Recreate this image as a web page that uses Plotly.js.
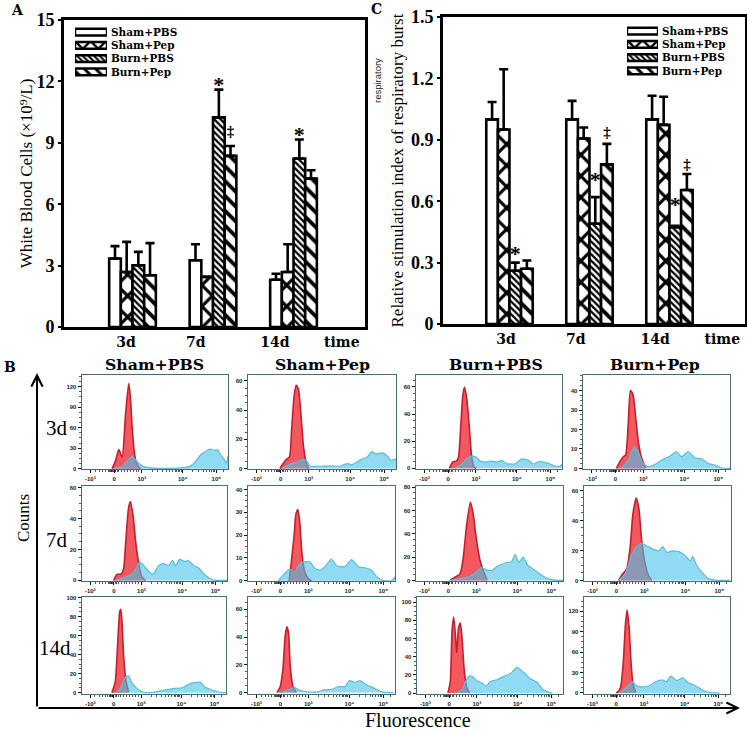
<!DOCTYPE html>
<html><head><meta charset="utf-8">
<script src="https://cdn.plot.ly/plotly-3.0.1.min.js"></script>
<style>html,body{margin:0;padding:0;background:#fff}</style></head>
<body><div id="chart" style="width:747px;height:731px"></div>
<script>
// ---------- bar panels ----------
const seriesNames = ['Sham+PBS','Sham+Pep','Burn+PBS','Burn+Pep'];
const groupIndex = [0,1,2];
const wbcShamPbs = [3.34,3.26,2.31], wbcShamPbsTop = [3.95,4.04,2.60];
const wbcShamPep = [2.69,2.45,2.69], wbcShamPepTop = [4.16,2.45,4.04];
const wbcBurnPbs = [3.02,10.24,8.23], wbcBurnPbsTop = [3.67,11.60,9.16];
const wbcBurnPep = [2.53,8.36,7.25], wbcBurnPepTop = [4.10,8.84,7.66];
const rsiShamPbs = [1.00,1.00,1.00], rsiShamPbsTop = [1.085,1.09,1.115];
const rsiShamPep = [0.95,0.906,0.973], rsiShamPepTop = [1.245,0.96,1.11];
const rsiBurnPbs = [0.26,0.49,0.473], rsiBurnPbsTop = [0.30,0.62,0.48];
const rsiBurnPep = [0.27,0.78,0.655], rsiBurnPepTop = [0.31,0.88,0.733];
const timeLabels = ['3d','7d','14d','time'];
const wbcTimeTicks = [-0.081,0.785,1.77,2.6];
const rsiTimeTicks = [-0.044,0.83,1.82,2.66];
const wbcMarkGroup=[1,1,2], wbcMarkBar=[2,3,2], wbcMarkY=[11.75,9.5,9.3], wbcMarkText=['*','‡','*'];
const rsiMarkGroup=[0,1,1,2,2], rsiMarkBar=[2,2,3,2,3], rsiMarkY=[0.335,0.695,0.933,0.575,0.777], rsiMarkText=['*','*','‡','*','‡'];

// ---------- flow cytometry histograms (x: % of channel axis, y: counts) ----------
const channelTicks=[5.7,22,41,69,92];
const channelLabels=['-10³','0','10³','10⁴','10⁵'];
const channelMinor=[9,12,14,16,18,19,19.5,20,20.5,21,21.5,23,24,25,27,29,31,33,35,37,39,48,52,55,58,60,62,64,65,66,67,68,76,80,83,85,87,89,90,91,97];

const shamPbs3dRedX=[20.6,22.9,25.2,27.5,29.7,32,33.1,34.3,35.9,37.3,40];
const shamPbs3dRedY=[0,11,28,17,76,125,105,62,23,8,0];
const shamPbs3dBlueX=[21.7,27.5,30.9,34.3,35.9,38.9,42.3,46.9,53.8,67.5,73.2,76.7,81.2,85.8,88.1,90.4,92.7,95,97.3,99,100];
const shamPbs3dBlueY=[0,3,11,18,15,8,3,1,0.5,1,3,8,20,27,28.5,27,27.5,20,14,8,19];

const shamPep3dRedX=[21.6,23.4,25.7,28,29.5,31.1,32.5,34.1,35.7,37.5,39.3,40.9];
const shamPep3dRedY=[0,3,6,8,27,49,57,54,38,15,4,0];
const shamPep3dBlueX=[22.7,28.4,33,36.4,39.3,42,51,56.8,61.4,67,70.5,76,80.7,83.6,86.4,90.9,94.3,96.6,100];
const shamPep3dBlueY=[0,3,4.5,6,5.7,1.8,1.6,1.8,1.6,3.4,2.7,6,8,11.6,10,10.7,8.4,5.7,6.6];

const burnPbs3dRedX=[22.9,25.2,27.5,29,30.7,32,33.2,34.8,36.4,38.2,39.8,41.2];
const burnPbs3dRedY=[0,4.8,5.3,7.7,32,53,60,51,32,8,1,0];
const burnPbs3dBlueX=[26.8,31.4,34.8,38.2,41.2,43.9,47.4,52,55.4,58.8,62.2,68,72.5,77,80.5,84,89.7,95.4,98.9,100];
const burnPbs3dBlueY=[0,3,7,9,8.4,5.3,4.6,5.3,4.6,5.8,3.4,3.4,7,6,3,5,4,1.7,1.7,3.4];

const burnPep3dRedX=[22.7,25,27.3,29,30.7,32.3,34,36,37.7,40,42.7];
const burnPep3dRedY=[0,3.4,5.9,7,22,40,38,25,13.4,5,0.3];
const burnPep3dBlueX=[26,30.7,33,35.2,37.5,40.5,44.3,50,54.5,59,63.6,67,71.6,76,80.7,85.2,89.8,94.3,100];
const burnPep3dBlueY=[0,4,8.4,10.8,8.4,3,0.8,2.5,4.7,6.2,8.7,5.9,8.7,5.4,5,2.5,1.7,0.2,0];

const shamPbs7dRedX=[21.8,24.1,26.9,28.7,30,32,33.3,35.2,37,38.9,41,43.7];
const shamPbs7dRedY=[0,3.9,4,7.5,22.7,46,51,42,25,12,3,0];
const shamPbs7dBlueX=[23,29.9,34.5,37.5,39.8,42.5,46,49.4,52.9,56.3,59.8,62.5,64.4,67.4,70.6,73.6,77,80.5,83.9,87.4,90.8,100];
const shamPbs7dBlueY=[0,2,4.3,8,12,9.7,5.8,4.3,9.7,10.8,9.7,13,9.3,13.6,12.3,12.7,9.7,8,4.3,1.7,0.2,0];

const shamPep7dRedX=[28,29.5,31.4,32.5,33.9,35.2,36.8,38.6,40.9,43.2];
const shamPep7dRedY=[0,8.3,20,28.8,31.2,25.8,11.2,4,1,0];
const shamPep7dBlueX=[20.5,23.9,28.4,31.8,35.2,38.6,42,45.5,48.9,52.3,56.8,60.2,65.9,70.5,75,79.5,84,87.5,92,97.7,100];
const shamPep7dBlueY=[0,2.5,5.1,3.6,7.6,8.3,8.3,5.4,4.7,6.1,9.5,6.6,6.1,9.3,6.1,5.7,4.7,1.8,0.1,0,1.8];

const burnPbs7dRedX=[23,26.5,29.9,32,34.4,37,38.9,41,43.4,45.7,48.4];
const burnPbs7dRedY=[0,2.8,5.6,18,47,67,57,36,18,8.4,0.5];
const burnPbs7dBlueX=[23,29.9,36.7,41,44.6,48,51.4,55.9,61.5,65,67.4,70,72.9,76.2,79.6,84.2,88.7,93.2,100];
const burnPbs7dBlueY=[0,1.4,3.6,7,11,9,8.4,12.6,15.4,16,22.3,15.4,20,12.6,9.8,5.6,2,0.5,0];

const burnPep7dRedX=[23.4,26.4,29,31.4,33.2,35.5,37.3,39.3,41.6,43.9,46.1];
const burnPep7dRedY=[0,4.4,7.6,22,43.7,55,48,26,11,3.3,0];
const burnPep7dBlueX=[23.4,28,32.5,36.4,39.3,42.7,47.3,50.7,53.6,56.4,59.8,65,68.9,72.3,73.9,76.8,80.2,84.8,89.3,99.5];
const burnPep7dBlueY=[0,4.4,17.5,23,24.7,23,20.7,19.7,22.5,18.6,19.7,19,16.4,13,16,9.8,5.5,1,0.2,0];

const shamPbs14dRedX=[20.8,23.1,24.8,26.2,26.9,27.8,28.9,30.6,32.4];
const shamPbs14dRedY=[0,11.5,53,85,87.5,74,39,11.5,1];
const shamPbs14dBlueX=[24.3,26.6,28.9,30.6,32.4,34.7,38.2,42.8,49.8,56.7,63.7,69.4,74,78.7,82.2,85.6,90.3,96,100];
const shamPbs14dBlueY=[0,4.5,13,17,17.5,10,4.5,0.3,0.3,2.4,4.5,5,8.7,10.8,10.8,5.6,2.8,0.3,0];

const shamPep14dRedX=[19.7,21.9,23.8,25.3,26.5,27.6,28.7,30.3,32.8];
const shamPep14dRedY=[0,4.3,17.5,41,47.4,42.6,20,5.5,0.2];
const shamPep14dBlueX=[21.9,26.5,29.9,31.7,34.4,40,48,51.4,57,61.5,66,69,72.9,76.2,80.8,86.4,91,98.9];
const shamPep14dBlueY=[0,1.4,3,3.6,2,0.5,0.5,2,2.4,4.3,4.3,8.6,7.4,8.6,5.5,3,0.5,0];

const burnPbs14dRedX=[21.2,22.8,24,25.1,26.3,27.2,28.5,29.7,30.8,32.4,34.2,36];
const burnPbs14dRedY=[0,13,68,83.5,64,44,72,77,61,24,5.5,0];
const burnPbs14dBlueX=[27.4,30.8,33.1,35.4,37.7,41,44.5,47.5,50.2,54.8,59.4,63.9,68.5,73,77.6,82.2,86.8,92.5];
const burnPbs14dBlueY=[0,3.7,12,18.4,18.4,13.6,11,7.7,12.9,14.7,18.4,21.3,28.3,22.8,15.8,12,3.3,0];

const burnPep14dRedX=[22.2,24.9,26.8,28.4,29.5,30.9,32.3,33.6,35.5];
const burnPep14dRedY=[0,7.4,42,101,122,96.5,42,12.4,1];
const burnPep14dBlueX=[24.5,27.9,30.9,33.2,36.4,40.5,45,49.7,54.2,56.5,59.3,63.4,67.5,71.4,76,80.5,85,93.1];
const burnPep14dBlueY=[0,6.4,12.4,16.3,10,9,11,17.3,18.8,16.3,24.8,18.3,22.3,14.9,11,5,1,0];

const hists=[
 {r:[375,469],c:[82,228],red:[shamPbs3dRedX,shamPbs3dRedY],blue:[shamPbs3dBlueX,shamPbs3dBlueY],yr:[-0.5,137],yt:[0,30,60,90,120]},
 {r:[375,469],c:[248,396],red:[shamPep3dRedX,shamPep3dRedY],blue:[shamPep3dBlueX,shamPep3dBlueY],yr:[-0.3,64],yt:[0,20,40,60]},
 {r:[375,469],c:[416,562],red:[burnPbs3dRedX,burnPbs3dRedY],blue:[burnPbs3dBlueX,burnPbs3dBlueY],yr:[-0.5,68.8],yt:[0,20,40,60]},
 {r:[375,469],c:[583,730],red:[burnPep3dRedX,burnPep3dRedY],blue:[burnPep3dBlueX,burnPep3dBlueY],yr:[-0.3,48],yt:[0,10,20,30,40]},
 {r:[486,581],c:[82,227],red:[shamPbs7dRedX,shamPbs7dRedY],blue:[shamPbs7dBlueX,shamPbs7dBlueY],yr:[-0.4,61],yt:[0,20,40,60]},
 {r:[486,581],c:[248,395],red:[shamPep7dRedX,shamPep7dRedY],blue:[shamPep7dBlueX,shamPep7dBlueY],yr:[-0.1,41.5],yt:[0,10,20,30,40]},
 {r:[486,581],c:[416,563],red:[burnPbs7dRedX,burnPbs7dRedY],blue:[burnPbs7dBlueX,burnPbs7dBlueY],yr:[-0.5,81],yt:[0,20,40,60,80]},
 {r:[486,581],c:[584,731],red:[burnPep7dRedX,burnPep7dRedY],blue:[burnPep7dBlueX,burnPep7dBlueY],yr:[-0.4,63],yt:[0,20,40,60]},
 {r:[597,694],c:[82,226],red:[shamPbs14dRedX,shamPbs14dRedY],blue:[shamPbs14dBlueX,shamPbs14dBlueY],yr:[-1.4,100.5],yt:[0,20,40,60,80,100]},
 {r:[597,694],c:[248,395],red:[shamPep14dRedX,shamPep14dRedY],blue:[shamPep14dBlueX,shamPep14dBlueY],yr:[-1,68.9],yt:[0,20,40,60]},
 {r:[597,694],c:[417,563],red:[burnPbs14dRedX,burnPbs14dRedY],blue:[burnPbs14dBlueX,burnPbs14dBlueY],yr:[-1,105.5],yt:[0,20,40,60,80,100]},
 {r:[597,694],c:[584,730],red:[burnPep14dRedX,burnPep14dRedY],blue:[burnPep14dBlueX,burnPep14dBlueY],yr:[-1.5,141],yt:[0,30,60,90,120]}
];

// ---------- build ----------
const W=747,H=731;
const dx=(a,b)=>[a/W,b/W];
const dy=(top,bot)=>[1-bot/H,1-top/H];
const SERIF='Liberation Serif', WIDE='DejaVu Serif';
const barW=(1-0.42)/4;
const patterns=[
 {shape:'',size:8,solidity:0.3},
 {shape:'x',size:15,solidity:0.38},
 {shape:'\\',size:4.5,solidity:0.5},
 {shape:'\\',size:10.5,solidity:0.36}
];
const traces=[]; const layout={
 width:W,height:H,margin:{l:0,r:0,t:0,b:0},paper_bgcolor:'#fff',plot_bgcolor:'#fff',
 showlegend:false,barmode:'group',bargap:0.42,bargroupgap:0,annotations:[]
};
function barPanel(ax,names,vals,tops){
 const xa='x'+(ax===1?'':ax), ya='y'+(ax===1?'':ax);
 vals.forEach((v,i)=>{
  traces.push({type:'bar',name:names[i],x:groupIndex,y:v,xaxis:xa,yaxis:ya,
   marker:{color:'#fff',line:{color:'#000',width:2.6},pattern:Object.assign({fgcolor:'#000',bgcolor:'#fff',fillmode:'replace'},patterns[i])},
   error_y:{type:'data',symmetric:false,array:tops[i].map((t,k)=>+(t-v[k]).toFixed(3)),arrayminus:v.map(()=>0),color:'#000',thickness:2.6,width:4.5}});
 });
}
function marks(ax,g,b,y,t){
 const s=ax===1?'':ax;
 traces.push({type:'scatter',mode:'text',x:g.map((gi,i)=>gi+(b[i]-1.5)*barW),y:y,text:t,xaxis:'x'+s,yaxis:'y'+s,
  textfont:{family:SERIF,size:t.map(c=>c==='*'?22:15),color:'#000',weight:700},textposition:'middle center',hoverinfo:'skip',cliponaxis:false});
}
function barAxes(ax,box,xr,yr,ticks,yticks,title,titleSize,standoff){
 const s=ax===1?'':ax;
 layout['xaxis'+s]={domain:dx(box[0],box[1]),range:xr,anchor:'y'+s,showgrid:false,zeroline:false,showline:true,mirror:true,linecolor:'#000',linewidth:3,
  tickmode:'array',tickvals:ticks,ticktext:timeLabels,ticks:'',tickfont:{family:WIDE,size:14,color:'#000',weight:700}};
 layout['yaxis'+s]={domain:dy(box[2],box[3]),range:yr,anchor:'x'+s,showgrid:false,zeroline:false,showline:true,mirror:true,linecolor:'#000',linewidth:3,
  tickmode:'array',tickvals:yticks,ticktext:yticks.map(v=>ax===1?String(v):(v===0?'0':v.toFixed(1))),ticks:'outside',ticklen:3,tickwidth:2,tickcolor:'#000',
  tickfont:{family:SERIF,size:18,color:'#000',weight:700},
  title:{text:title,font:{family:SERIF,size:titleSize,color:'#000'},standoff:standoff}};
}
function legendPanel(ax,box){
 const s=ax;
 traces.push({type:'bar',orientation:'h',x:[1,1,1,1],y:seriesNames,width:[0.52,0.52,0.52,0.52],xaxis:'x'+s,yaxis:'y'+s,
  marker:{color:'#fff',line:{color:'#000',width:2.4},pattern:{fgcolor:'#000',bgcolor:'#fff',fillmode:'replace',
   shape:patterns.map(p=>p.shape),size:[8,11,4,8],solidity:patterns.map(p=>p.solidity)}},hoverinfo:'skip'});
 layout['xaxis'+s]={domain:dx(box[0],box[1]),range:[0,1],anchor:'y'+s,visible:false};
 layout['yaxis'+s]={domain:dy(box[2],box[3]),anchor:'x'+s,side:'right',autorange:'reversed',type:'category',showgrid:false,zeroline:false,showline:false,ticks:'',
  tickmode:'array',tickvals:seriesNames,ticktext:seriesNames,
  ticklabelstandoff:3,tickfont:{family:WIDE,size:10.5,color:'#000',weight:700}};
}
barPanel(1,seriesNames,[wbcShamPbs,wbcShamPep,wbcBurnPbs,wbcBurnPep],[wbcShamPbsTop,wbcShamPepTop,wbcBurnPbsTop,wbcBurnPepTop]);
marks(1,wbcMarkGroup,wbcMarkBar,wbcMarkY,wbcMarkText);
barPanel(2,seriesNames,[rsiShamPbs,rsiShamPep,rsiBurnPbs,rsiBurnPep],[rsiShamPbsTop,rsiShamPepTop,rsiBurnPbsTop,rsiBurnPepTop]);
marks(2,rsiMarkGroup,rsiMarkBar,rsiMarkY,rsiMarkText);
barAxes(1,[64,365,20,327],[-0.851,2.888],[0,15],wbcTimeTicks,[0,3,6,9,12,15],'White Blood Cells (×10⁹/L)',17,0);
barAxes(2,[443,745,17,324],[-0.831,2.944],[0,1.5],rsiTimeTicks,[0,0.3,0.6,0.9,1.2,1.5],'Relative stimulation index of respiratory burst',17,3);
legendPanel(3,[75,107,25.5,78.5]);
legendPanel(4,[627,658,24.5,77.5]);

hists.forEach((h,i)=>{
 const n=i+5;
 const common={xaxis:'x'+n,yaxis:'y'+n,type:'scatter',mode:'lines',fill:'tozeroy',hoverinfo:'skip'};
 traces.push(Object.assign({},common,{x:h.red[0],y:h.red[1],fillcolor:'#f4585f',line:{color:'#c41f2e',width:1.6,shape:'spline',smoothing:0.6}}));
 traces.push(Object.assign({},common,{x:h.blue[0],y:h.blue[1],fillcolor:'rgba(70,195,235,0.6)',line:{color:'#5bbdd6',width:1.2,shape:'spline',smoothing:0.5}}));
 layout['xaxis'+n]={domain:dx(h.c[0],h.c[1]),range:[0,100],anchor:'y'+n,showgrid:false,zeroline:false,showline:true,mirror:true,linecolor:'#4a6b74',linewidth:1.4,
  tickmode:'array',tickvals:channelTicks,ticktext:channelLabels,ticks:'outside',ticklen:3,tickwidth:1,tickcolor:'#111',
  minor:{ticks:'outside',ticklen:1.5,tickwidth:0.7,tickcolor:'#111',tickmode:'array',tickvals:channelMinor},
  tickfont:{family:'Liberation Sans',size:6,color:'#222',weight:700}};
 layout['yaxis'+n]={domain:dy(h.r[0],h.r[1]),range:h.yr,anchor:'x'+n,showgrid:false,zeroline:false,showline:true,mirror:true,linecolor:'#4a6b74',linewidth:1.4,
  tickmode:'array',tickvals:h.yt,ticktext:h.yt.map(String),ticks:'outside',ticklen:3,tickwidth:1,tickcolor:'#111',
  minor:{ticks:'outside',ticklen:1.5,tickwidth:0.7,tickcolor:'#111',dtick:(h.yt[1]-h.yt[0])/4},
  tickfont:{family:'Liberation Sans',size:6,color:'#222',weight:700}};
});

const note=(text,x,y,size,opt)=>layout.annotations.push(Object.assign({text:text,xref:'paper',yref:'paper',x:x/W,y:1-y/H,xanchor:'center',yanchor:'middle',showarrow:false,borderpad:0,
 font:{family:SERIF,size:size,color:'#000'}},opt||{}));
const wideBold=s=>({font:{family:WIDE,size:s,color:'#000',weight:700}});
note('A',17,10,14,wideBold(14));
note('C',377,9,14,wideBold(14));
note('B',10,367,14,wideBold(14));
note('respiratory',377,80,9.5,{textangle:-90,font:{family:'Liberation Sans',size:9.5,color:'#222'}});
seriesNames.forEach((t,i)=>note(t,[154,322,496,655][i],364,15.7,wideBold(15.7)));
[['3d',57,428],['7d',57,540],['14d',55,648]].forEach(a=>note(a[0],a[1],a[2],21));
note('Counts',23,518,17,{textangle:-90});
note('Fluorescence',418,720,20);
// axis arrows
layout.annotations.push({xref:'paper',yref:'paper',x:37/W,y:1-373/H,axref:'pixel',ayref:'pixel',ax:0,ay:335,showarrow:true,arrowhead:5,arrowsize:1.1,arrowwidth:2,arrowcolor:'#000',text:''});
layout.annotations.push({xref:'paper',yref:'paper',x:740/W,y:1-708/H,axref:'pixel',ayref:'pixel',ax:-703,ay:0,showarrow:true,arrowhead:5,arrowsize:1.1,arrowwidth:2,arrowcolor:'#000',text:''});

Plotly.newPlot('chart',traces,layout,{displayModeBar:false,staticPlot:true});
</script></body></html>
